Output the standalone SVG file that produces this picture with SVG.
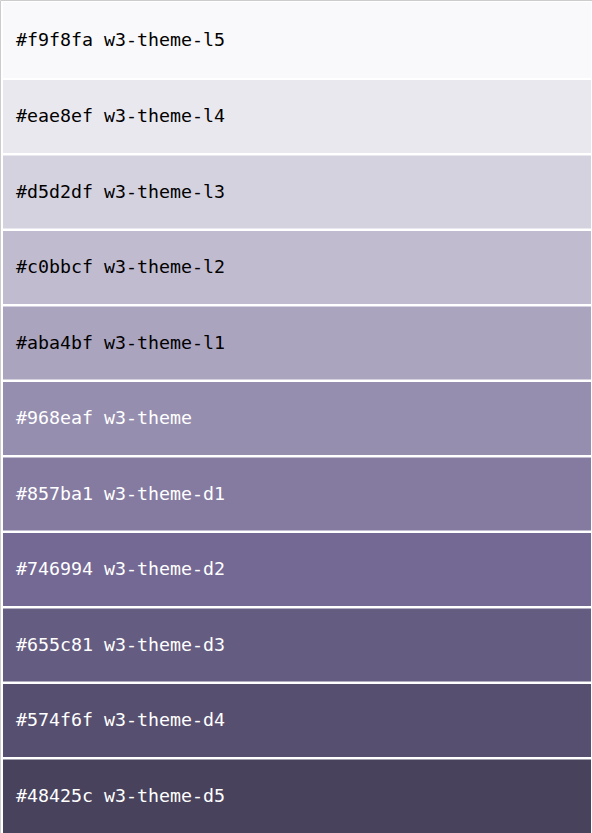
<svg xmlns="http://www.w3.org/2000/svg" width="592" height="833" viewBox="0 0 592 833">
<style>
text{font-family:"DejaVu Sans Mono","Liberation Mono",monospace;font-size:18.3px}
.dk{fill:#000}
.lt{fill:#fff}
</style>
<rect x="0" y="0" width="592" height="833" fill="#fff"/>
<path d="M0.5 833V0.5H592" fill="none" stroke="#cccccc" stroke-width="1"/>
<g id="l5"><rect x="3" y="2" width="588" height="76" fill="#f9f8fa"/><text class="dk" x="16" y="46">#f9f8fa w3-theme-l5</text></g>
<g id="l4"><rect x="3" y="80" width="588" height="73" fill="#eae8ef"/><text class="dk" x="16" y="122.3">#eae8ef w3-theme-l4</text></g>
<g id="l3"><rect x="3" y="155.5" width="588" height="73" fill="#d5d2df"/><text class="dk" x="16" y="197.8">#d5d2df w3-theme-l3</text></g>
<g id="l2"><rect x="3" y="231" width="588" height="73" fill="#c0bbcf"/><text class="dk" x="16" y="273.3">#c0bbcf w3-theme-l2</text></g>
<g id="l1"><rect x="3" y="306.5" width="588" height="73" fill="#aba4bf"/><text class="dk" x="16" y="348.8">#aba4bf w3-theme-l1</text></g>
<g id="theme"><rect x="3" y="382" width="588" height="73" fill="#968eaf"/><text class="lt" x="16" y="424.3">#968eaf w3-theme</text></g>
<g id="d1"><rect x="3" y="457.5" width="588" height="73" fill="#857ba1"/><text class="lt" x="16" y="499.8">#857ba1 w3-theme-d1</text></g>
<g id="d2"><rect x="3" y="533" width="588" height="73" fill="#746994"/><text class="lt" x="16" y="575.3">#746994 w3-theme-d2</text></g>
<g id="d3"><rect x="3" y="608.5" width="588" height="73" fill="#655c81"/><text class="lt" x="16" y="650.8">#655c81 w3-theme-d3</text></g>
<g id="d4"><rect x="3" y="684" width="588" height="73" fill="#574f6f"/><text class="lt" x="16" y="726.3">#574f6f w3-theme-d4</text></g>
<g id="d5"><rect x="3" y="759.5" width="588" height="73.5" fill="#48425c"/><text class="lt" x="16" y="801.8">#48425c w3-theme-d5</text></g>
<g id="connectors"/>
</svg>
